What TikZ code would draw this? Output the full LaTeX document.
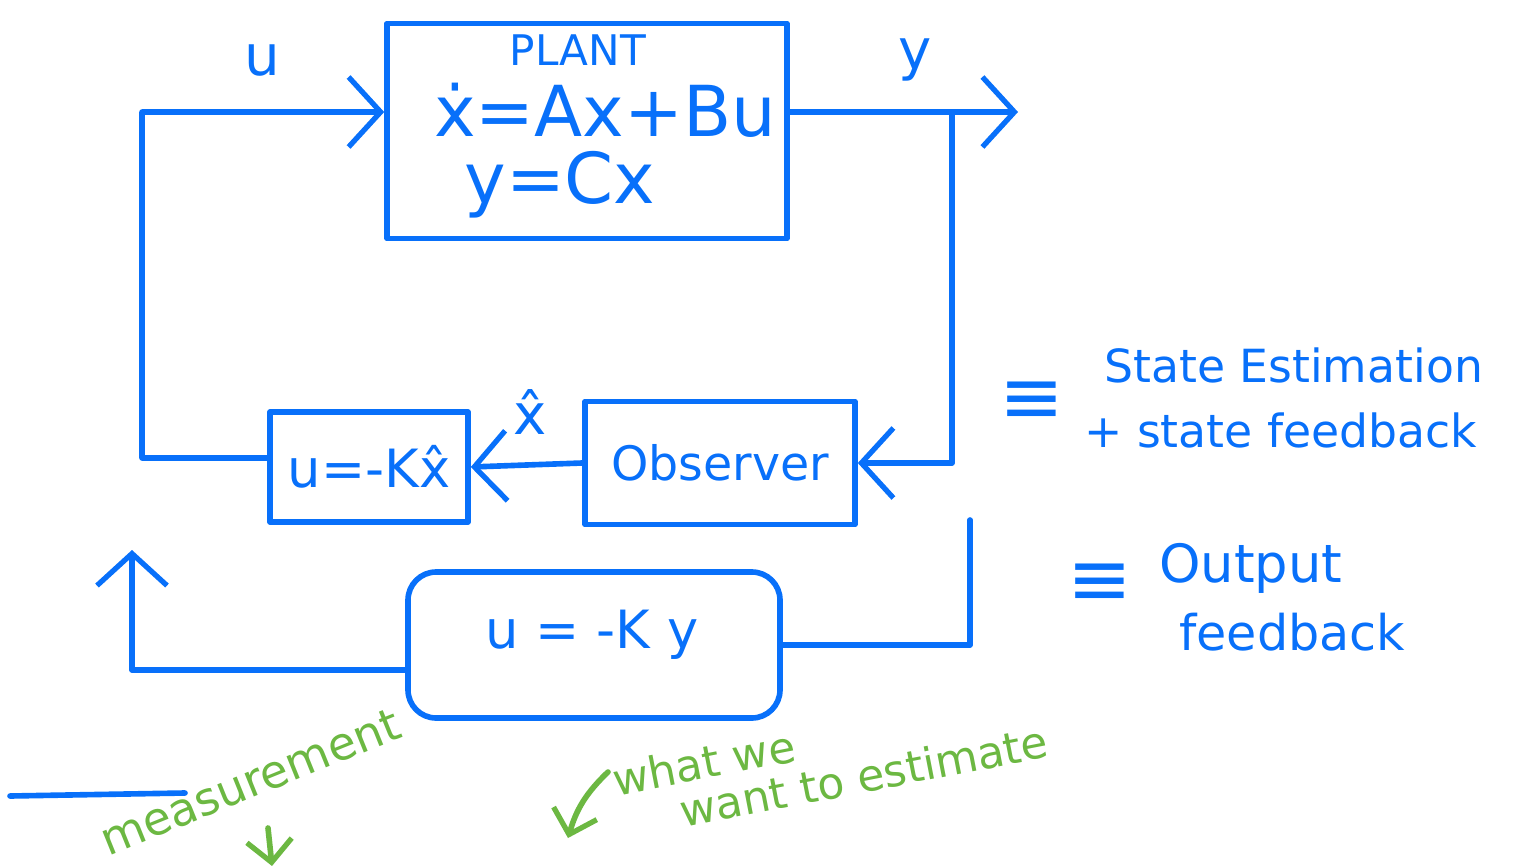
\documentclass[tikz,border=0pt]{standalone}
\usepackage{fontspec}
\setmainfont{DejaVu Sans}
\usetikzlibrary{positioning, arrows.meta, calc}
\definecolor{cink}{RGB}{8,112,250}
\definecolor{cnote}{RGB}{108,184,66}

\begin{document}
\begin{tikzpicture}[>={Straight Barb[length=3.2mm, width=7mm, line width=1.5pt]},
    ink/.style={draw=cink, line width=1.6pt, line cap=round, line join=round},
    blockbox/.style={ink, minimum width=#1, inner sep=0pt},
    inktext/.style={text=cink, inner sep=1pt},
    notetext/.style={text=cnote, inner sep=1pt},
    notearrow/.style={draw=cnote, line width=1.6pt, line cap=round,
      >={Straight Barb[length=2.2mm, width=4.5mm, line width=1.5pt]}},
    fsz/.style={font=\fontsize{#1}{#1}\selectfont}]

  \useasboundingbox (0,0) rectangle (15.21,-8.66);

  % --- Plant ---
  \node[blockbox=4.0cm, minimum height=2.15cm] (plant) at (5.87,-1.31) {};
  \node[inktext, fsz=12] (plantname) at (5.78,-0.5) {PLANT};
  \node[inktext, fsz=20] (stateeq) at (6.05,-1.1) {ẋ=Ax+Bu};
  \node[inktext, fsz=20] (outeq) at (5.6,-1.85) {y=Cx};

  \node[inktext, fsz=16] (ulabel) at (2.62,-0.6) {u};
  \node[inktext, fsz=16] (ylabel) at (9.15,-0.6) {y};

  % --- Controller and observer ---
  \node[blockbox=1.98cm, minimum height=1.1cm] (ctrl) at (3.69,-4.67) {};
  \node[inktext, fsz=15] (ctrllaw) at (ctrl) {u=-Kx̂};
  \node[blockbox=2.7cm, minimum height=1.23cm] (obs) at (7.2,-4.63) {};
  \node[inktext, fsz=13.5] (obsname) at (obs) {Observer};
  \node[inktext, fsz=16] (xhat) at (5.3,-4.12) {x̂};

  % --- Output feedback ---
  \node[blockbox=3.72cm, minimum height=1.46cm, rounded corners=8pt] (ofb) at (5.94,-6.45) {};
  \node[inktext, fsz=15] (ofblaw) at (5.92,-6.35) {u = -K y};

  % --- Connectors ---
  \coordinate (yout) at (10.18,-1.12);
  \coordinate (tap) at (9.52,-1.12);
  \coordinate (leftrail) at (1.42,-4.58);
  \coordinate (ofbtop) at (9.7,-5.2);
  \coordinate (ofbup) at (1.32,-5.5);

  \draw[ink, ->] ([yshift=0.9mm]ctrl.west) -- (leftrail) |- ([yshift=1.9mm]plant.west);
  \draw[ink, ->] ([yshift=1.9mm]plant.east) -- (yout);
  \draw[ink, ->] (tap) |- (obs.east);
  \draw[ink, ->] (obs.west) -- (ctrl.east);
  \draw[ink] (ofbtop) |- (ofb.east);
  \draw[ink, ->] ([yshift=-2.5mm]ofb.west) -| (ofbup);

  % --- Right-hand notes ---
  \node[inktext, fsz=22] (eqv1) at (10.32,-4.03) {≡};
  \node[inktext, fsz=13, anchor=west] (se1) at (11.0,-3.65) {State Estimation};
  \node[inktext, fsz=13, anchor=west] (se2) at (10.8,-4.3) {+ state feedback};
  \node[inktext, fsz=22] (eqv2) at (11.0,-5.85) {≡};
  \node[inktext, fsz=15, anchor=west] (of1) at (11.55,-5.68) {Output};
  \node[inktext, fsz=14, anchor=west] (of2) at (11.75,-6.32) {feedback};

  % --- Bottom annotations ---
  \coordinate (rule1) at (0.1,-7.96);
  \coordinate (rule2) at (1.85,-7.93);
  \draw[ink] (rule1) -- (rule2);

  \node[notetext, fsz=13, rotate=22] (meas) at (2.5,-7.82) {measurement};
  \coordinate (measarr1) at (2.68,-8.28);
  \coordinate (measarr2) at (2.72,-8.66);
  \draw[notearrow, ->] (measarr1) -- (measarr2);

  \node[notetext, fsz=12.5, rotate=11, align=left, anchor=north west] (want) at (6.05,-7.6)
        {what we\\\hspace{0.6cm}want to estimate};
  \coordinate (wantarr1) at (6.08,-7.72);
  \coordinate (wantarr2) at (5.68,-8.38);
  \draw[notearrow, ->] (wantarr1) to[bend right=15] (wantarr2);
\end{tikzpicture}
\end{document}
